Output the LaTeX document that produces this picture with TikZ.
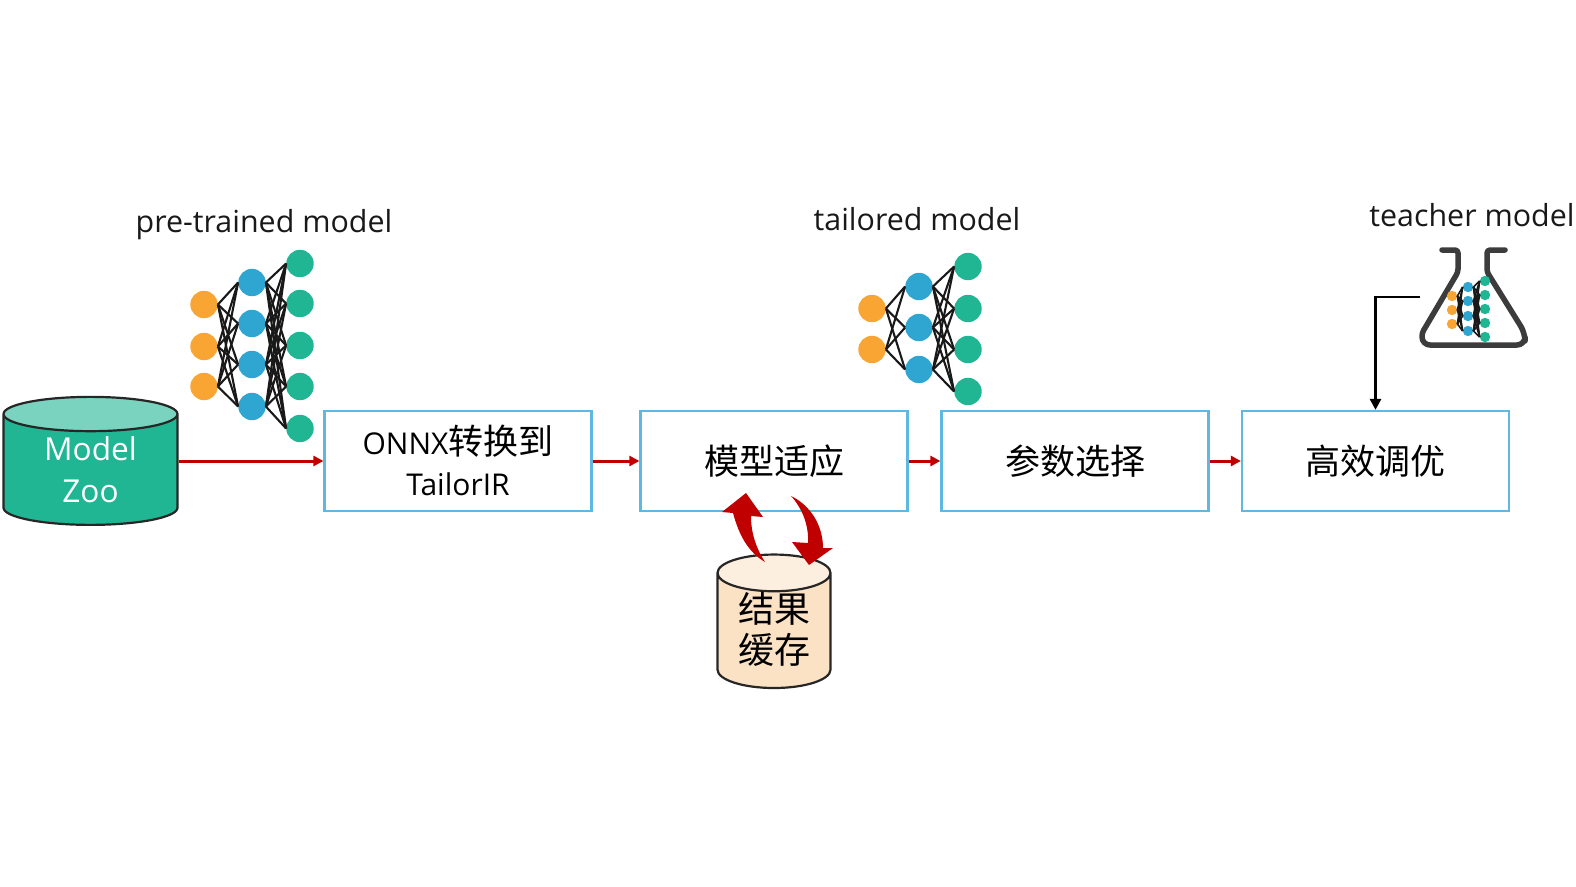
\documentclass[tikz,border=0pt]{standalone}
\usepackage{fontspec}
\setmainfont{Open Sans}
\newfontfamily\cjk{Noto Sans CJK SC}
\usetikzlibrary{arrows.meta,shapes.geometric}
\definecolor{boxblue}{HTML}{5DB9E2}
\definecolor{arrowred}{HTML}{C00000}
\definecolor{netorange}{HTML}{F9A533}
\definecolor{netblue}{HTML}{2FA5D2}
\definecolor{netgreen}{HTML}{20B693}
\definecolor{flaskgray}{HTML}{3C3C3C}
\definecolor{cachebody}{HTML}{FBE2C5}
\definecolor{cachetop}{HTML}{FDEFDF}

\begin{document}
\begin{tikzpicture}[x=1pt,y=-1pt,
		step box/.style={draw=boxblue,line width=2.2pt,minimum width=267pt,minimum height=100pt,
			inner sep=0pt,align=center,font=\fontsize{30}{41}\selectfont},
		flow/.style={-{Triangle[length=10pt,width=10pt]},draw=arrowred,line width=3pt},
		title/.style={font=\fontsize{30.4}{34}\selectfont,text=black!90},
		in node/.style={circle,fill=netorange,minimum size=27.4pt,inner sep=0pt},
		mid node/.style={circle,fill=netblue,minimum size=27.4pt,inner sep=0pt},
		out node/.style={circle,fill=netgreen,minimum size=27.4pt,inner sep=0pt},
		tiny net/.style={minimum size=10.4pt},
		link/.style={draw=black!90,line width=2.1pt},
		drum/.style={cylinder,shape border rotate=90,draw=black!85,line width=2.2pt,
			cylinder uses custom fill,align=center,inner sep=0pt}]
	\useasboundingbox (0,0) rectangle (1576,886);

	% pipeline
	\node[step box] (onnx) at (458,461) {\raisebox{2pt}{ONNX{\cjk\fontsize{35}{41}\selectfont 转换到}}\\\raisebox{2pt}{TailorIR}};
	\node[step box,font=\cjk\fontsize{35}{41}\selectfont] (adapt) [right of = onnx,node distance=316pt] {模型适应};
	\node[step box,font=\cjk\fontsize{35}{41}\selectfont] (select) [right of = adapt,node distance=301pt] {参数选择};
	\node[step box,font=\cjk\fontsize{35}{41}\selectfont] (tune) [right of = select,node distance=300.5pt] {高效调优};

	\node[drum,minimum width=174pt,minimum height=128pt,aspect=0.37,
		cylinder body fill=netgreen,cylinder end fill=netgreen!60!white,text=white,
		font=\fontsize{31.6}{42}\selectfont] (zoo) at (90.5,470) {Model\\Zoo};
	\node[drum,minimum width=113pt,minimum height=130pt,aspect=0.51,
		cylinder body fill=cachebody,cylinder end fill=cachetop,
		font=\cjk\fontsize{36}{41}\selectfont] (cache) at (774,631) {\raisebox{6pt}{结果}\\\raisebox{6pt}{缓存}};

	\draw[flow] (zoo.east |- onnx.west) -- (onnx.west);
	\draw[flow] (onnx) -- (adapt);
	\draw[flow] (adapt) -- (select);
	\draw[flow] (select) -- (tune);

	% the two arrows between step and cache
	\fill[arrowred] (765,562) .. controls (748,552) and (739,535) .. (733,513) -- (722,512) -- (746,493)
		-- (763,517) -- (751,516) .. controls (751,533) and (756,548) .. (765,562) -- cycle;
	\fill[arrowred] (791,496) .. controls (810,505) and (823,525) .. (823,548) -- (833,548) -- (809,565)
		-- (792,542) -- (808,543) .. controls (809,525) and (802,508) .. (791,496) -- cycle;

	% pre-trained model
	\node[title] (pretitle) at (264,225) {pre-trained model};
	\foreach \i/\y in {1/304.5,2/346.5,3/386.5}
		\node[in node] (pa\i) at (204,\y) {};
	\foreach \i/\y in {1/282.5,2/323.5,3/364.5,4/406.5}
		\node[mid node] (pb\i) at (252,\y) {};
	\foreach \i/\y in {1/263.5,2/303.5,3/345.5,4/386.5,5/428.5}
		\node[out node] (pc\i) at (300,\y) {};
	\foreach \i in {1,2,3} \foreach \j in {1,...,4}
		\draw[link] (pa\i.east) -- (pb\j.west);
	\foreach \j in {1,...,4} \foreach \k in {1,...,5}
		\draw[link] (pb\j.east) -- (pc\k.west);

	% tailored model
	\node[title] (tailtitle) at (917,219) {tailored model};
	\foreach \i/\y in {1/308.5,2/349.5}
		\node[in node] (ta\i) at (872,\y) {};
	\foreach \i/\y in {1/286.5,2/327.5,3/369.5}
		\node[mid node] (tb\i) at (919,\y) {};
	\foreach \i/\y in {1/266.5,2/308.5,3/349.5,4/391.5}
		\node[out node] (tc\i) at (968,\y) {};
	\foreach \i in {1,2} \foreach \j in {1,2,3}
		\draw[link] (ta\i.east) -- (tb\j.west);
	\foreach \j in {1,2,3} \foreach \k in {1,...,4}
		\draw[link] (tb\j.east) -- (tc\k.west);

	% teacher model
	\node[title] (teachtitle) at (1472,215) {teacher model};
	\draw[flaskgray,line width=5.5pt,line cap=round,line join=round,rounded corners=3pt]
		(1442,250) -- (1458,250) -- (1458,272) -- (1422,333) [rounded corners=8pt] -- (1422,345) -- (1525,345)
		-- (1525,333) [rounded corners=3pt] -- (1487,272) -- (1487,250) -- (1505,250);
	\foreach \i/\y in {1/296,2/310,3/324}
		\node[in node,tiny net] (fa\i) at (1452,\y) {};
	\foreach \i/\y in {1/287,2/301,3/316,4/331}
		\node[mid node,tiny net] (fb\i) at (1468,\y) {};
	\foreach \i/\y in {1/281,2/295,3/309,4/323,5/337}
		\node[out node,tiny net] (fc\i) at (1485,\y) {};
	\foreach \i in {1,2,3} \foreach \j in {1,...,4}
		\draw[link,line width=1.6pt] (fa\i.east) -- (fb\j.west);
	\foreach \j in {1,...,4} \foreach \k in {1,...,5}
		\draw[link,line width=1.6pt] (fb\j.east) -- (fc\k.west);

	\coordinate (flaskout) at (1420,297);
	\draw[-{Triangle[length=11pt,width=11pt]},line width=2.8pt] (flaskout) -| (tune.north);
\end{tikzpicture}
\end{document}
